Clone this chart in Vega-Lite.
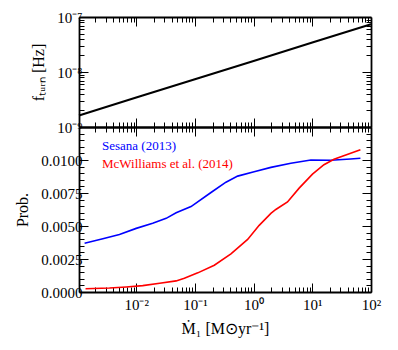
{
  "$schema": "https://vega.github.io/schema/vega-lite/v6.json",
  "padding": {"left": 14, "top": 10, "right": 5, "bottom": 5},
  "spacing": 0,
  "bounds": "flush",
  "config": {
    "view": {"stroke": null},
    "font": "Liberation Serif",
    "legend": {"labelFont": "Liberation Serif"},
    "axis": {
      "labelFont": "Liberation Serif", "titleFont": "Liberation Serif",
      "labelFontSize": 15, "titleFontSize": 16, "titleFontWeight": "normal",
      "domainColor": "black", "domainWidth": 1.8, "tickColor": "black", "tickWidth": 1,
      "labelColor": "black", "titleColor": "black", "grid": false
    }
  },
  "datasets": {
    "fturn": [
      {"mdot": 0.00106, "f": 1.62e-9},
      {"mdot": 0.01, "f": 3.43e-9},
      {"mdot": 0.1, "f": 7.39e-9},
      {"mdot": 1, "f": 1.59e-8},
      {"mdot": 10, "f": 3.43e-8},
      {"mdot": 100, "f": 7.39e-8}
    ],
    "prob": [
      {"series": "Sesana (2013)", "mdot": 0.00132, "p": 0.0037},
      {"series": "Sesana (2013)", "mdot": 0.0027, "p": 0.00404},
      {"series": "Sesana (2013)", "mdot": 0.00518, "p": 0.00436},
      {"series": "Sesana (2013)", "mdot": 0.01, "p": 0.00482},
      {"series": "Sesana (2013)", "mdot": 0.0191, "p": 0.0052},
      {"series": "Sesana (2013)", "mdot": 0.0324, "p": 0.00558},
      {"series": "Sesana (2013)", "mdot": 0.0479, "p": 0.006},
      {"series": "Sesana (2013)", "mdot": 0.0859, "p": 0.00647},
      {"series": "Sesana (2013)", "mdot": 0.188, "p": 0.00754},
      {"series": "Sesana (2013)", "mdot": 0.338, "p": 0.00832},
      {"series": "Sesana (2013)", "mdot": 0.535, "p": 0.00878},
      {"series": "Sesana (2013)", "mdot": 1.02, "p": 0.00911},
      {"series": "Sesana (2013)", "mdot": 1.97, "p": 0.00944},
      {"series": "Sesana (2013)", "mdot": 4.31, "p": 0.00975},
      {"series": "Sesana (2013)", "mdot": 9.44, "p": 0.0100},
      {"series": "Sesana (2013)", "mdot": 20.7, "p": 0.00998},
      {"series": "Sesana (2013)", "mdot": 44.7, "p": 0.01008},
      {"series": "Sesana (2013)", "mdot": 66, "p": 0.01013},
      {"series": "McWilliams et al. (2014)", "mdot": 0.00137, "p": 0.00025},
      {"series": "McWilliams et al. (2014)", "mdot": 0.0035, "p": 0.0003},
      {"series": "McWilliams et al. (2014)", "mdot": 0.00676, "p": 0.00038},
      {"series": "McWilliams et al. (2014)", "mdot": 0.0129, "p": 0.00048},
      {"series": "McWilliams et al. (2014)", "mdot": 0.0251, "p": 0.00066},
      {"series": "McWilliams et al. (2014)", "mdot": 0.0479, "p": 0.00084},
      {"series": "McWilliams et al. (2014)", "mdot": 0.0661, "p": 0.00105},
      {"series": "McWilliams et al. (2014)", "mdot": 0.112, "p": 0.00145},
      {"series": "McWilliams et al. (2014)", "mdot": 0.214, "p": 0.00203},
      {"series": "McWilliams et al. (2014)", "mdot": 0.411, "p": 0.00289},
      {"series": "McWilliams et al. (2014)", "mdot": 0.791, "p": 0.00398},
      {"series": "McWilliams et al. (2014)", "mdot": 1.245, "p": 0.00505},
      {"series": "McWilliams et al. (2014)", "mdot": 1.97, "p": 0.00595},
      {"series": "McWilliams et al. (2014)", "mdot": 2.39, "p": 0.00625},
      {"series": "McWilliams et al. (2014)", "mdot": 3.78, "p": 0.00682},
      {"series": "McWilliams et al. (2014)", "mdot": 5.97, "p": 0.00787},
      {"series": "McWilliams et al. (2014)", "mdot": 10.07, "p": 0.00893},
      {"series": "McWilliams et al. (2014)", "mdot": 15.8, "p": 0.00964},
      {"series": "McWilliams et al. (2014)", "mdot": 23.4, "p": 0.01005},
      {"series": "McWilliams et al. (2014)", "mdot": 37.2, "p": 0.01038},
      {"series": "McWilliams et al. (2014)", "mdot": 66, "p": 0.01078}
    ]
  },
  "vconcat": [
    {
      "width": 292, "height": 110,
      "data": {"name": "fturn"},
      "layer": [
        {
          "mark": {"type": "line", "color": "black", "strokeWidth": 2},
          "encoding": {
            "x": {"field": "mdot", "type": "quantitative",
              "scale": {"type": "log", "domain": [0.00106, 100], "nice": false},
              "axis": {"orient": "bottom", "title": null, "labels": false,
                "values": [0.002,0.003,0.004,0.005,0.006,0.007,0.008,0.009,0.01,0.02,0.03,0.04,0.05,0.06,0.07,0.08,0.09,0.1,0.2,0.3,0.4,0.5,0.6,0.7,0.8,0.9,1,2,3,4,5,6,7,8,9,10,20,30,40,50,60,70,80,90],
                "tickSize": {"condition": {"test": "abs(log(datum.value)/LN10 - round(log(datum.value)/LN10)) < 0.001", "value": -9}, "value": -5}}},
            "y": {"field": "f", "type": "quantitative",
              "scale": {"type": "log", "domain": [1e-9, 1e-7], "nice": false},
              "axis": {"orient": "left", "title": "fₜᵤᵣₙ [Hz]", "titlePadding": 10, "labelPadding": 6,
                "values": [1e-9,2e-9,3e-9,4e-9,5e-9,6e-9,7e-9,8e-9,9e-9,1e-8,2e-8,3e-8,4e-8,5e-8,6e-8,7e-8,8e-8,9e-8,1e-7],
                "labelExpr": "datum.value == 1e-9 ? '10⁻⁹' : datum.value == 1e-8 ? '10⁻⁸' : datum.value == 1e-7 ? '10⁻⁷' : ''",
                "labelFlush": false,
                "tickSize": {"condition": {"test": "abs(log(datum.value)/LN10 - round(log(datum.value)/LN10)) < 0.001", "value": -9}, "value": -5}}}
          }
        },
        {
          "mark": {"type": "line", "strokeOpacity": 0},
          "encoding": {
            "x": {"field": "mdot", "type": "quantitative",
              "scale": {"type": "log", "domain": [0.00106, 100], "nice": false},
              "axis": {"orient": "top", "title": null, "labels": false,
                "values": [0.002,0.003,0.004,0.005,0.006,0.007,0.008,0.009,0.01,0.02,0.03,0.04,0.05,0.06,0.07,0.08,0.09,0.1,0.2,0.3,0.4,0.5,0.6,0.7,0.8,0.9,1,2,3,4,5,6,7,8,9,10,20,30,40,50,60,70,80,90],
                "tickSize": {"condition": {"test": "abs(log(datum.value)/LN10 - round(log(datum.value)/LN10)) < 0.001", "value": -9}, "value": -5}}},
            "y": {"field": "f", "type": "quantitative",
              "scale": {"type": "log", "domain": [1e-9, 1e-7], "nice": false},
              "axis": {"orient": "right", "title": null, "labels": false,
                "values": [1e-9,2e-9,3e-9,4e-9,5e-9,6e-9,7e-9,8e-9,9e-9,1e-8,2e-8,3e-8,4e-8,5e-8,6e-8,7e-8,8e-8,9e-8,1e-7],
                "tickSize": {"condition": {"test": "abs(log(datum.value)/LN10 - round(log(datum.value)/LN10)) < 0.001", "value": -9}, "value": -5}}}
          }
        }
      ],
      "resolve": {"axis": {"x": "independent", "y": "independent"}}
    },
    {
      "width": 292, "height": 165,
      "data": {"name": "prob"},
      "layer": [
        {
          "mark": {"type": "line", "strokeWidth": 1.6},
          "encoding": {
            "x": {"field": "mdot", "type": "quantitative",
              "scale": {"type": "log", "domain": [0.00106, 100], "nice": false},
              "axis": {"orient": "bottom", "title": "Ṁ₁ [M⊙yr⁻¹]", "titlePadding": 8, "labelPadding": 14,
                "values": [0.002,0.003,0.004,0.005,0.006,0.007,0.008,0.009,0.01,0.02,0.03,0.04,0.05,0.06,0.07,0.08,0.09,0.1,0.2,0.3,0.4,0.5,0.6,0.7,0.8,0.9,1,2,3,4,5,6,7,8,9,10,20,30,40,50,60,70,80,90,100],
                "labelExpr": "datum.value == 0.01 ? '10⁻²' : datum.value == 0.1 ? '10⁻¹' : datum.value == 1 ? '10⁰' : datum.value == 10 ? '10¹' : datum.value == 100 ? '10²' : ''",
                "labelFlush": false,
                "tickSize": {"condition": {"test": "abs(log(datum.value)/LN10 - round(log(datum.value)/LN10)) < 0.001", "value": -9}, "value": -5}}},
            "y": {"field": "p", "type": "quantitative",
              "scale": {"domain": [0, 0.0125], "nice": false, "zero": false},
              "axis": {"orient": "left", "title": "Prob.", "titlePadding": 10, "labelPadding": 6,
                "values": [0,0.0005,0.001,0.0015,0.002,0.0025,0.003,0.0035,0.004,0.0045,0.005,0.0055,0.006,0.0065,0.007,0.0075,0.008,0.0085,0.009,0.0095,0.01,0.0105,0.011,0.0115,0.012],
                "labelExpr": "abs(datum.value/0.0025 - round(datum.value/0.0025)) < 0.001 ? format(datum.value, '.4f') : ''",
                "labelFlush": false,
                "tickSize": {"condition": {"test": "abs(datum.value/0.0025 - round(datum.value/0.0025)) < 0.001", "value": -9}, "value": -5}}},
            "color": {"field": "series", "type": "nominal",
              "scale": {"domain": ["Sesana (2013)", "McWilliams et al. (2014)"], "range": ["#0000ff", "#ff0000"]},
              "legend": {"orient": "none", "legendX": 10, "legendY": 122, "title": null,
                "symbolSize": 0, "symbolStrokeWidth": 0, "labelOffset": 0, "padding": 0, "rowPadding": 4,
                "labelFont": "Liberation Serif", "labelFontSize": 13, "labelLimit": 300,
                "encode": {"labels": {"update": {"font": {"value": "Liberation Serif"}, "fill": {"signal": "datum.value == 'Sesana (2013)' ? '#0000ff' : '#ff0000'"}}}}}}
          }
        },
        {
          "mark": {"type": "line", "strokeOpacity": 0},
          "encoding": {
            "x": {"field": "mdot", "type": "quantitative",
              "scale": {"type": "log", "domain": [0.00106, 100], "nice": false},
              "axis": {"orient": "top", "title": null, "labels": false,
                "values": [0.002,0.003,0.004,0.005,0.006,0.007,0.008,0.009,0.01,0.02,0.03,0.04,0.05,0.06,0.07,0.08,0.09,0.1,0.2,0.3,0.4,0.5,0.6,0.7,0.8,0.9,1,2,3,4,5,6,7,8,9,10,20,30,40,50,60,70,80,90],
                "tickSize": {"condition": {"test": "abs(log(datum.value)/LN10 - round(log(datum.value)/LN10)) < 0.001", "value": -9}, "value": -5}}},
            "y": {"field": "p", "type": "quantitative",
              "scale": {"domain": [0, 0.0125], "nice": false, "zero": false},
              "axis": {"orient": "right", "title": null, "labels": false,
                "values": [0,0.0005,0.001,0.0015,0.002,0.0025,0.003,0.0035,0.004,0.0045,0.005,0.0055,0.006,0.0065,0.007,0.0075,0.008,0.0085,0.009,0.0095,0.01,0.0105,0.011,0.0115,0.012],
                "tickSize": {"condition": {"test": "abs(datum.value/0.0025 - round(datum.value/0.0025)) < 0.001", "value": -9}, "value": -5}}}
          }
        }
      ],
      "resolve": {"axis": {"x": "independent", "y": "independent"}}
    }
  ]
}
